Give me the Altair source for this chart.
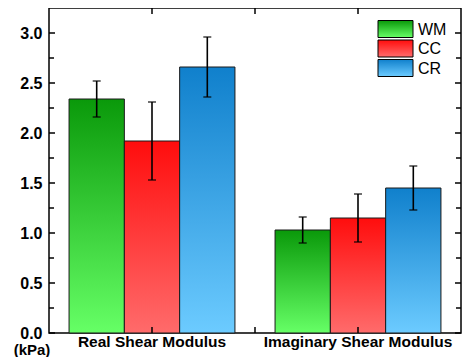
import altair as alt
import pandas as pd

categories = ["Real Shear Modulus", "Imaginary Shear Modulus"]
series = ["WM", "CC", "CR"]
wm_mean = [2.34, 1.03]
cc_mean = [1.92, 1.15]
cr_mean = [2.66, 1.45]
wm_err = [0.18, 0.13]
cc_err = [0.39, 0.24]
cr_err = [0.30, 0.22]
y_major = [0.0, 0.5, 1.0, 1.5, 2.0, 2.5, 3.0]
y_minor = [0.25, 0.75, 1.25, 1.75, 2.25, 2.75]
grad_top = {"WM": "#0a990a", "CC": "#ff0d0d", "CR": "#1080cc"}
grad_bottom = {"WM": "#66ff66", "CC": "#ff6b6b", "CR": "#6ccbff"}

W, H = 412, 325
FONT = "Liberation Sans"

rows = []
for s, means, errs in zip(series, [wm_mean, cc_mean, cr_mean], [wm_err, cc_err, cr_err]):
    for c, m, e in zip(categories, means, errs):
        rows.append({"cat": c, "series": s, "mean": m, "lo": m - e, "hi": m + e})
df = pd.DataFrame(rows)


def grad(s):
    return alt.LinearGradient(
        gradient="linear",
        stops=[alt.GradientStop(color=grad_top[s], offset=0),
               alt.GradientStop(color=grad_bottom[s], offset=1)],
        x1=0, x2=0, y1=0, y2=1,
    )


x_scale = alt.Scale(domain=categories, paddingInner=0, paddingOuter=0)
xo_scale = alt.Scale(domain=series, paddingInner=0, paddingOuter=0.3625)
y_scale = alt.Scale(domain=[0, 3.25], nice=False, zero=True)

x_axis = alt.Axis(title=None, labelAngle=0, labelFont=FONT, labelFontWeight="bold",
                  labelFontSize=15.5, labelColor="black", ticks=False, domain=False,
                  labelPadding=1, grid=False, labelLimit=400)
y_axis = alt.Axis(title=None, values=y_major, format=".1f", ticks=False, domain=False,
                  grid=False, labelPadding=7, labelFont=FONT, labelFontWeight="bold",
                  labelFontSize=16, labelColor="black")

X = alt.X("cat:N", scale=x_scale, axis=x_axis, sort=categories)
XO = alt.XOffset("series:N", scale=xo_scale, sort=series)

base = alt.Chart(df)
layers = []
for s in series:
    layers.append(
        base.transform_filter(alt.datum.series == s)
        .mark_bar(fill=grad(s), stroke="#1a1a1a", strokeWidth=1)
        .encode(x=X, xOffset=XO, y=alt.Y("mean:Q", scale=y_scale, axis=y_axis))
    )

layers.append(
    base.mark_rule(color="black", strokeWidth=1.6).encode(
        x=X, xOffset=XO,
        y=alt.Y("lo:Q", scale=y_scale, axis=y_axis), y2="hi:Q")
)
for fld in ["lo", "hi"]:
    layers.append(
        base.mark_tick(color="black", thickness=1.6, size=8).encode(
            x=X, xOffset=XO, y=alt.Y(f"{fld}:Q", scale=y_scale, axis=y_axis))
    )

# inward ticks on all four sides
maj = alt.Chart(pd.DataFrame({"v": y_major}))
mnr = alt.Chart(pd.DataFrame({"v": y_minor}))
for ch, ln in [(maj, 6), (mnr, 5)]:
    Y = alt.Y("v:Q", scale=y_scale, axis=y_axis)
    layers.append(ch.mark_rule(color="black", strokeWidth=1.5).encode(
        y=Y, x=alt.value(0), x2=alt.value(ln)))
    layers.append(ch.mark_rule(color="black", strokeWidth=1.5).encode(
        y=Y, x=alt.value(W), x2=alt.value(W - ln)))

xt = alt.Chart(pd.DataFrame({"cat": categories}))
xb = alt.Chart(pd.DataFrame({"cat": categories[:1]}))
for ch, bp in [(xt, 0.5), (xb, 1)]:
    XX = alt.X("cat:N", scale=x_scale, axis=x_axis, sort=categories, bandPosition=bp)
    layers.append(ch.mark_rule(color="black", strokeWidth=1.5).encode(
        x=XX, y=alt.value(H), y2=alt.value(H - 6)))
    layers.append(ch.mark_rule(color="black", strokeWidth=1.5).encode(
        x=XX, y=alt.value(0), y2=alt.value(6)))

# unit label
layers.append(
    alt.Chart(pd.DataFrame({"t": ["(kPa)"]})).mark_text(
        font=FONT, fontWeight="bold", fontSize=15, align="center", baseline="middle",
        color="black").encode(text="t:N", x=alt.value(-17), y=alt.value(H + 17))
)

# legend
leg_y = {"WM": 12.5, "CC": 32, "CR": 51.5}
for s in series:
    one = alt.Chart(pd.DataFrame({"series": [s]}))
    layers.append(one.mark_rect(fill=grad(s), stroke="black", strokeWidth=1).encode(
        x=alt.value(329), x2=alt.value(364),
        y=alt.value(leg_y[s]), y2=alt.value(leg_y[s] + 17)))
    layers.append(one.mark_text(font=FONT, fontSize=16, align="left", baseline="middle",
                                color="black").encode(
        text="series:N", x=alt.value(369), y=alt.value(leg_y[s] + 9)))

chart = (
    alt.layer(*layers)
    .properties(width=W, height=H, autosize=alt.AutoSizeParams(type="none"),
                padding={"left": 41, "top": 0, "right": 3, "bottom": 24})
    .configure_view(stroke="black", strokeWidth=1.5)
)

chart.save("out.html", embed_options={"renderer": "svg", "actions": False})
